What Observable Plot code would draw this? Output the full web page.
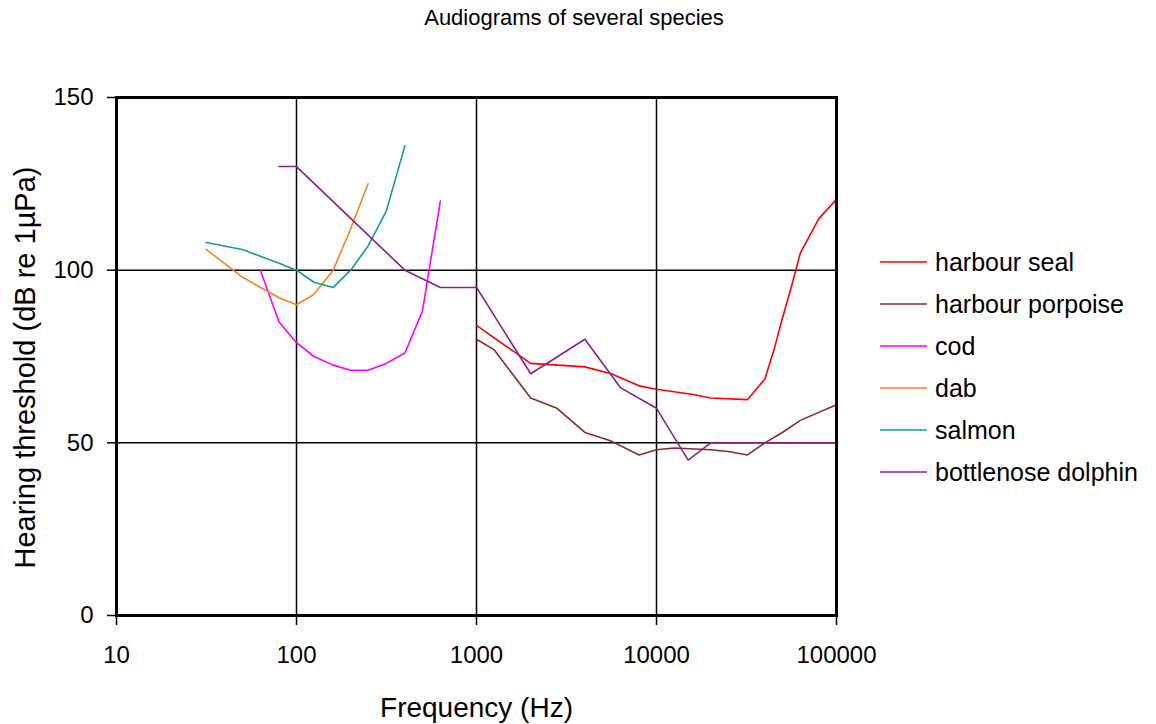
<!DOCTYPE html>
<html>
<head>
<meta charset="utf-8">
<script src="https://cdn.jsdelivr.net/npm/d3@7"></script>
<script src="https://cdn.jsdelivr.net/npm/@observablehq/plot@0.6"></script>
<style>
  body { margin: 0; background: #fff; font-family: "Liberation Sans", Arial, sans-serif; }
  #wrap { position: relative; width: 1156px; height: 724px; }
  #title { height: 40px; width: 1156px; text-align: center; font-size: 22px; line-height: 36px; padding-right: 8px; box-sizing: border-box; color: #000; }
  #legend { position: absolute; left: 880px; top: 241px; }
  .item { display: flex; align-items: center; height: 42px; font-size: 25px; color: #000; }
  .item svg { margin-right: 8px; }
</style>
</head>
<body>
<div id="wrap">
  <div id="title">Audiograms of several species</div>
  <div id="chart"></div>
  <div id="legend"></div>
</div>
<script>
const species = ["harbour seal", "harbour porpoise", "cod", "dab", "salmon", "bottlenose dolphin"];
const colors = ["#ff0000", "#8c2a2a", "#ff00ff", "#f5821f", "#139a9a", "#8b1f8b"];

const sealF = [1000, 2000, 4000, 5600, 8000, 10000, 16000, 20000, 32000, 40000, 45000, 50000, 56000, 63000, 71000, 80000, 100000];
const sealV = [84, 73, 72, 70, 66.5, 65.5, 64, 63, 62.5, 68.5, 77, 86, 95, 105, 110, 115, 120.5];

const porpoiseF = [1000, 1250, 2000, 2800, 4000, 5600, 8000, 10000, 12500, 20000, 25000, 32000, 40000, 50000, 63000, 100000];
const porpoiseV = [80, 77, 63, 60, 53, 50.5, 46.5, 48, 48.5, 48, 47.5, 46.5, 50, 53, 56.5, 61];

const codF = [63, 80, 100, 125, 160, 200, 250, 315, 400, 500, 630];
const codV = [100, 85, 79, 75, 72.5, 71, 71, 73, 76, 88, 120];

const dabF = [31.5, 50, 63, 80, 100, 125, 160, 200, 250];
const dabV = [106, 98, 95, 92, 90, 93, 100, 112, 125];

const salmonF = [31.5, 50, 63, 80, 100, 125, 160, 200, 250, 315, 400];
const salmonV = [108, 106, 104, 102, 100, 96.5, 95, 100, 107, 117, 136];

const dolphinF = [80, 100, 200, 400, 630, 1000, 2000, 4000, 6300, 10000, 15000, 20000, 100000];
const dolphinV = [130, 130, 115, 100, 95, 95, 70, 80, 66, 60, 45, 50, 50];

const xTicks = [10, 100, 1000, 10000, 100000];
const yTicks = [0, 50, 100, 150];
const yGrid = [50, 100];

const series = [
  [species[0], sealF, sealV],
  [species[1], porpoiseF, porpoiseV],
  [species[2], codF, codV],
  [species[3], dabF, dabV],
  [species[4], salmonF, salmonV],
  [species[5], dolphinF, dolphinV]
];
const rows = series.flatMap(([s, F, V]) => F.map((f, i) => ({s, f, v: V[i]})));

const chart = Plot.plot({
  width: 1156,
  height: 684,
  marginLeft: 116,
  marginRight: 320,
  marginTop: 57,
  marginBottom: 109,
  style: {fontFamily: "'Liberation Sans', Arial, sans-serif", color: "#000", background: "#fff"},
  x: {type: "log", domain: [10, 100000]},
  y: {domain: [0, 150]},
  color: {domain: species, range: colors},
  marks: [
    Plot.gridX(xTicks, {stroke: "#000", strokeOpacity: 1, strokeWidth: 1.5}),
    Plot.gridY(yGrid, {stroke: "#000", strokeOpacity: 1, strokeWidth: 1.5}),
    Plot.line(rows, {x: "f", y: "v", z: "s", stroke: "s", strokeWidth: 1.6}),
    Plot.frame({stroke: "#000", strokeWidth: 3}),
    Plot.axisX({ticks: xTicks, tickFormat: d => String(d), tickSize: 10, tickPadding: 20, fontSize: 24, label: null, stroke: "#000", strokeWidth: 1.5}),
    Plot.axisY({ticks: yTicks, tickFormat: d => String(d), tickSize: 9, tickPadding: 14, fontSize: 24, label: null, stroke: "#000", strokeWidth: 1.5}),
    Plot.text(["Frequency (Hz)"], {frameAnchor: "bottom", dy: 101, lineAnchor: "bottom", fontSize: 28, fill: "#000"}),
    Plot.text(["Hearing threshold (dB re 1µPa)"], {frameAnchor: "left", textAnchor: "middle", dx: -91, dy: 11, rotate: -90, fontSize: 29, fill: "#000"})
  ]
});
document.getElementById("chart").appendChild(chart);

const legend = document.getElementById("legend");
species.forEach((s, i) => {
  const div = document.createElement("div");
  div.className = "item";
  div.innerHTML = `<svg width="47" height="4"><line x1="0" x2="47" y1="2" y2="2" stroke="${colors[i]}" stroke-width="1.6"/></svg><span>${s}</span>`;
  legend.appendChild(div);
});
</script>
</body>
</html>
